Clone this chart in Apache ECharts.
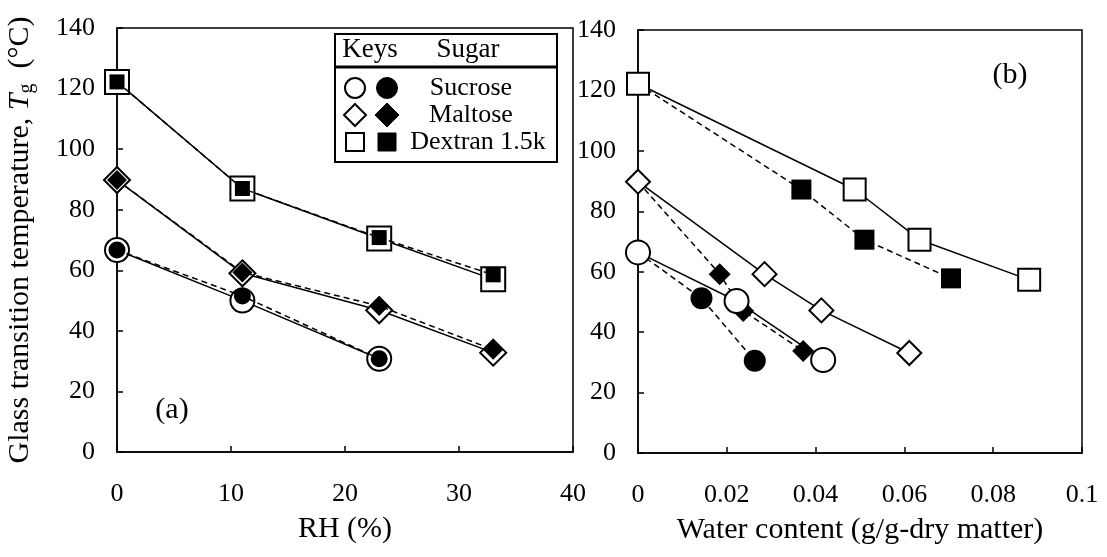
<!DOCTYPE html>
<html>
<head>
<meta charset="utf-8">
<script src="https://cdn.jsdelivr.net/npm/echarts@6/dist/echarts.min.js"></script>
<style>
  html, body { margin: 0; padding: 0; background: #fff; }
  #chart { width: 1107px; height: 557px; }
</style>
</head>
<body>
<div id="chart"></div>
<script>
// (a) Tg vs RH
const rhFull = [0, 11, 23, 33];
const rhSucrose = [0, 11, 23];
const sucroseOpenRH = [66.7, 50.0, 30.8];
const sucroseFilledRH = [66.7, 51.5, 30.8];
const maltoseOpenRH = [89.8, 59.0, 46.8, 32.8];
const maltoseFilledRH = [89.8, 59.3, 48.2, 33.8];
const dextranOpenRH = [122.2, 87.0, 70.5, 57.0];
const dextranFilledRH = [122.2, 87.0, 70.8, 58.5];

// (b) Tg vs water content
const wSucroseOpen = [0, 0.0222, 0.0417];
const tSucroseOpen = [66.4, 50.3, 30.8];
const wSucroseFilled = [0, 0.0143, 0.0263];
const tSucroseFilled = [66.4, 51.2, 30.5];
const wMaltoseOpen = [0, 0.0285, 0.0413, 0.0611];
const tMaltoseOpen = [89.8, 59.2, 47.2, 33.1];
const wMaltoseFilled = [0, 0.0184, 0.0237, 0.0372];
const tMaltoseFilled = [89.8, 59.2, 47.0, 33.8];
const wDextranOpen = [0, 0.0488, 0.0634, 0.0881];
const tDextranOpen = [122.2, 87.2, 70.6, 57.3];
const wDextranFilled = [0, 0.0368, 0.0510, 0.0705];
const tDextranFilled = [122.2, 87.2, 70.6, 57.8];

const sugars = ['Sucrose', 'Maltose', 'Dextran 1.5k'];

const FONT = '"Liberation Serif", "DejaVu Serif", serif';
const chart = echarts.init(document.getElementById('chart'));

function pairs(xs, ys) {
    return xs.map((x, i) => [x, ys[i]]);
}

function makeSeries(name, xs, ys, idx, symbol, size, filled, z) {
    return {
        name: name, type: 'line', xAxisIndex: idx, yAxisIndex: idx,
        data: pairs(xs, ys),
        symbol: symbol, symbolSize: size, showSymbol: true,
        lineStyle: { color: '#000', width: 1.5, type: filled ? [6, 4] : 'solid' },
        itemStyle: filled
            ? { color: '#000', borderColor: '#000', borderWidth: 0 }
            : { color: '#fff', borderColor: '#000', borderWidth: 2 },
        z: z,
        animation: false
    };
}

const tickLabel = { color: '#000', fontFamily: FONT, fontSize: 26 };
const nameText = { color: '#000', fontFamily: FONT, fontSize: 30 };

function xAxis(idx, max, interval, name) {
    return {
        type: 'value', gridIndex: idx, min: 0, max: max, interval: interval,
        name: name, nameLocation: 'middle', nameGap: 62, nameTextStyle: nameText,
        axisLine: { show: true, lineStyle: { color: '#000', width: 1.5 } },
        axisTick: { show: true, inside: true, length: 6, lineStyle: { color: '#000', width: 1.5 } },
        axisLabel: Object.assign({ margin: 29 }, tickLabel),
        splitLine: { show: false }
    };
}

function yAxis(idx, withName) {
    const ax = {
        type: 'value', gridIndex: idx, min: 0, max: 140, interval: 20,
        axisLine: { show: true, lineStyle: { color: '#000', width: 1.5 } },
        axisTick: { show: true, inside: true, length: 6, lineStyle: { color: '#000', width: 1.5 } },
        axisLabel: Object.assign({ margin: 22 }, tickLabel),
        splitLine: { show: false }
    };
    if (withName) {
        ax.name = '{a|Glass transition temperature, }{i|T}{s|g}{a|  (°C)}';
        ax.nameLocation = 'middle';
        ax.nameGap = 80;
        ax.nameRotate = 90;
        ax.nameTextStyle = {
            color: '#000', fontFamily: FONT, fontSize: 30,
            rich: {
                a: { fontFamily: FONT, fontSize: 30, color: '#000', lineHeight: 34 },
                i: { fontFamily: FONT, fontSize: 30, fontStyle: 'italic', color: '#000', lineHeight: 34 },
                s: { fontFamily: FONT, fontSize: 20, color: '#000', lineHeight: 34, verticalAlign: 'bottom', padding: [10, 0, 0, 0] }
            }
        };
    }
    return ax;
}

// legend box drawn as graphics
const legendRows = [88, 115, 142];
const legendGraphics = [
    { type: 'rect', shape: { x: 335, y: 34, width: 222, height: 128 }, style: { fill: '#fff', stroke: '#000', lineWidth: 2 }, z: 10 },
    { type: 'line', shape: { x1: 335, y1: 67, x2: 557, y2: 67 }, style: { stroke: '#000', lineWidth: 3 }, z: 11 },
    { type: 'text', x: 370, y: 50, style: { text: 'Keys', font: '27px ' + FONT, fill: '#000', align: 'center', verticalAlign: 'middle' }, z: 11 },
    { type: 'text', x: 468, y: 50, style: { text: 'Sugar', font: '27px ' + FONT, fill: '#000', align: 'center', verticalAlign: 'middle' }, z: 11 }
];
sugars.forEach((s, i) => {
    const y = legendRows[i];
    legendGraphics.push({ type: 'text', x: i === 2 ? 478 : 471, y: y, style: { text: s, font: '26px ' + FONT, fill: '#000', align: 'center', verticalAlign: 'middle' }, z: 11 });
    let open, solid;
    if (i === 0) {
        open = { type: 'circle', shape: { cx: 355, cy: y, r: 10 } };
        solid = { type: 'circle', shape: { cx: 387, cy: y, r: 10.5 } };
    } else if (i === 1) {
        open = { type: 'polygon', shape: { points: [[355, y - 11], [366, y], [355, y + 11], [344, y]] } };
        solid = { type: 'polygon', shape: { points: [[387, y - 12], [399, y], [387, y + 12], [375, y]] } };
    } else {
        open = { type: 'rect', shape: { x: 346, y: y - 9, width: 18, height: 18 } };
        solid = { type: 'rect', shape: { x: 378, y: y - 9, width: 18, height: 18 } };
    }
    open.style = { fill: '#fff', stroke: '#000', lineWidth: 2 }; open.z = 11;
    solid.style = { fill: '#000', stroke: '#000', lineWidth: 1 }; solid.z = 11;
    legendGraphics.push(open, solid);
});
legendGraphics.push(
    { type: 'text', x: 172, y: 410, style: { text: '(a)', font: '30px ' + FONT, fill: '#000', align: 'center', verticalAlign: 'middle' }, z: 11 },
    { type: 'text', x: 1010, y: 75, style: { text: '(b)', font: '30px ' + FONT, fill: '#000', align: 'center', verticalAlign: 'middle' }, z: 11 }
);

chart.setOption({
    backgroundColor: '#fff',
    animation: false,
    textStyle: { fontFamily: FONT },
    grid: [
        { left: 117, right: 534, top: 28, bottom: 105, show: true, borderColor: '#000', borderWidth: 1.5, backgroundColor: 'transparent' },
        { left: 638, right: 25, top: 30, bottom: 104, show: true, borderColor: '#000', borderWidth: 1.5, backgroundColor: 'transparent' }
    ],
    xAxis: [xAxis(0, 40, 10, 'RH (%)'), xAxis(1, 0.1, 0.02, 'Water content (g/g-dry matter)')],
    yAxis: [yAxis(0, true), yAxis(1, false)],
    series: [
        // (a): open markers behind, filled markers inside them
        makeSeries('Sucrose open (a)', rhSucrose, sucroseOpenRH, 0, 'circle', 24, false, 2),
        makeSeries('Maltose open (a)', rhFull, maltoseOpenRH, 0, 'diamond', 26, false, 2),
        makeSeries('Dextran open (a)', rhFull, dextranOpenRH, 0, 'rect', 24, false, 2),
        makeSeries('Sucrose filled (a)', rhSucrose, sucroseFilledRH, 0, 'circle', 17, true, 3),
        makeSeries('Maltose filled (a)', rhFull, maltoseFilledRH, 0, 'diamond', 20, true, 3),
        makeSeries('Dextran filled (a)', rhFull, dextranFilledRH, 0, 'rect', 15, true, 3),

        // (b): open markers on top
        makeSeries('Sucrose filled (b)', wSucroseFilled, tSucroseFilled, 1, 'circle', 22, true, 2),
        makeSeries('Maltose filled (b)', wMaltoseFilled, tMaltoseFilled, 1, 'diamond', 22, true, 2),
        makeSeries('Dextran filled (b)', wDextranFilled, tDextranFilled, 1, 'rect', 20, true, 2),
        makeSeries('Sucrose open (b)', wSucroseOpen, tSucroseOpen, 1, 'circle', 24, false, 3),
        makeSeries('Maltose open (b)', wMaltoseOpen, tMaltoseOpen, 1, 'diamond', 24, false, 3),
        makeSeries('Dextran open (b)', wDextranOpen, tDextranOpen, 1, 'rect', 22, false, 3)
    ],
    graphic: legendGraphics
});

window.addEventListener('resize', () => chart.resize());
</script>
</body>
</html>
